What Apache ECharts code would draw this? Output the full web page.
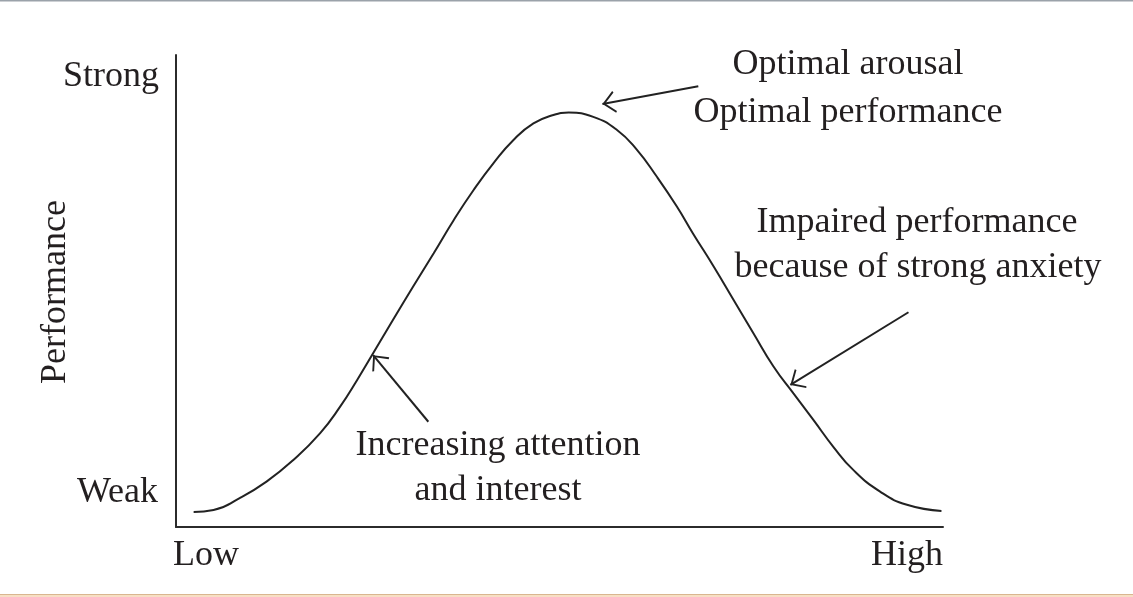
<!DOCTYPE html>
<html>
<head>
<meta charset="utf-8">
<script src="https://cdn.jsdelivr.net/npm/echarts@6/dist/echarts.min.js"></script>
<style>
html,body{margin:0;padding:0;background:#fff;}
#chart{width:1133px;height:597px;}
</style>
</head>
<body>
<div id="chart"></div>
<script>
// Arousal (x, 0-100) vs performance (y, 0-100)
var arousal = [2.3, 4.9, 8.3, 11.8, 15.3, 18.8, 21.4, 23.6, 25.7, 28.3, 30.9, 33.6, 36.2, 38.8, 41.4, 44.0, 46.6, 49.2, 51.2, 54.4, 57.5, 60.1, 62.7, 65.3, 67.4, 70.1, 72.7, 75.3, 77.9, 80.5, 83.1, 85.7, 88.3, 91.8, 95.3, 99.8];
var performance = [3.2, 3.6, 6.1, 9.6, 14.2, 19.9, 25.5, 31.1, 36.8, 43.9, 50.9, 58.0, 65.0, 71.4, 77.1, 82.0, 85.5, 87.3, 87.8, 86.9, 84.1, 79.9, 74.2, 67.9, 62.2, 55.2, 48.1, 41.0, 34.0, 28.3, 22.7, 17.0, 12.1, 7.5, 4.7, 3.4];

// Annotation arrows: [tailX, tailY, tipX, tipY] in data units
var arrowOptimal = [68.1, 93.4, 55.6, 89.6];
var arrowIncreasing = [32.9, 22.3, 25.7, 36.4];
var arrowImpaired = [95.5, 45.5, 80.1, 30.1];

var yTickLabels = ['Weak', 'Strong'];
var xTickLabels = ['Low', 'High'];
var yAxisTitle = 'Performance';
var noteOptimal = ['Optimal arousal', 'Optimal performance'];
var noteImpaired = ['Impaired performance', 'because of strong anxiety'];
var noteIncreasing = ['Increasing attention', 'and interest'];

var curve = arousal.map(function (x, i) { return [x, performance[i]]; });
function arrowLine(a) {
  return [{ coord: [a[0], a[1]], symbol: 'none' }, { coord: [a[2], a[3]] }];
}

var FONT = '36px "Liberation Serif", "DejaVu Serif", serif';
var INK = '#231f20';
function txt(s, x, y, align, rot) {
  return {
    type: 'text', x: x, y: y, rotation: rot || 0,
    style: { text: s, font: FONT, fill: INK, align: align || 'center', verticalAlign: 'middle' }
  };
}

var chevron = 'path://M10,-12 L10,-12 Z M10,0 L20,11 L18.6,12 L10,2.6 L1.4,12 L0,11 Z';

var chart = echarts.init(document.getElementById('chart'));
chart.setOption({
  animation: false,
  backgroundColor: '#ffffff',
  grid: { left: 176, right: 190, top: 55, bottom: 70 },
  xAxis: {
    type: 'value', min: 0, max: 100,
    axisLine: { show: true, onZero: false, lineStyle: { color: '#2b2b2b', width: 2 } },
    axisTick: { show: false }, axisLabel: { show: false }, splitLine: { show: false }
  },
  yAxis: {
    type: 'value', min: 0, max: 100,
    axisLine: { show: true, onZero: false, lineStyle: { color: '#2b2b2b', width: 2 } },
    axisTick: { show: false }, axisLabel: { show: false }, splitLine: { show: false }
  },
  series: [{
    type: 'line',
    data: curve,
    smooth: 0.5,
    showSymbol: false,
    lineStyle: { color: '#222', width: 2 },
    markLine: {
      silent: true,
      symbol: ['none', chevron],
      symbolSize: [22, 26],
      label: { show: false },
      lineStyle: { color: '#222', width: 2, type: 'solid' },
      data: [arrowLine(arrowOptimal), arrowLine(arrowIncreasing), arrowLine(arrowImpaired)]
    }
  }],
  graphic: [
    { type: 'rect', shape: { x: 0, y: 0, width: 1133, height: 1.5 }, style: { fill: '#9ba2aa' } },
    { type: 'rect', shape: { x: 0, y: 594, width: 1133, height: 3 }, style: { fill: '#f7dfc4' } },
    { type: 'rect', shape: { x: 0, y: 594, width: 1133, height: 1 }, style: { fill: '#d9b690' } },
    txt(yTickLabels[1], 159, 77, 'right'),
    txt(yTickLabels[0], 158, 493, 'right'),
    txt(xTickLabels[0], 173, 556, 'left'),
    txt(xTickLabels[1], 943, 556, 'right'),
    txt(yAxisTitle, 56, 292, 'center', Math.PI / 2),
    txt(noteOptimal[0], 848, 65),
    txt(noteOptimal[1], 848, 113),
    txt(noteImpaired[0], 917, 223),
    txt(noteImpaired[1], 918, 268),
    txt(noteIncreasing[0], 498, 446),
    txt(noteIncreasing[1], 498, 491)
  ]
});
</script>
</body>
</html>
